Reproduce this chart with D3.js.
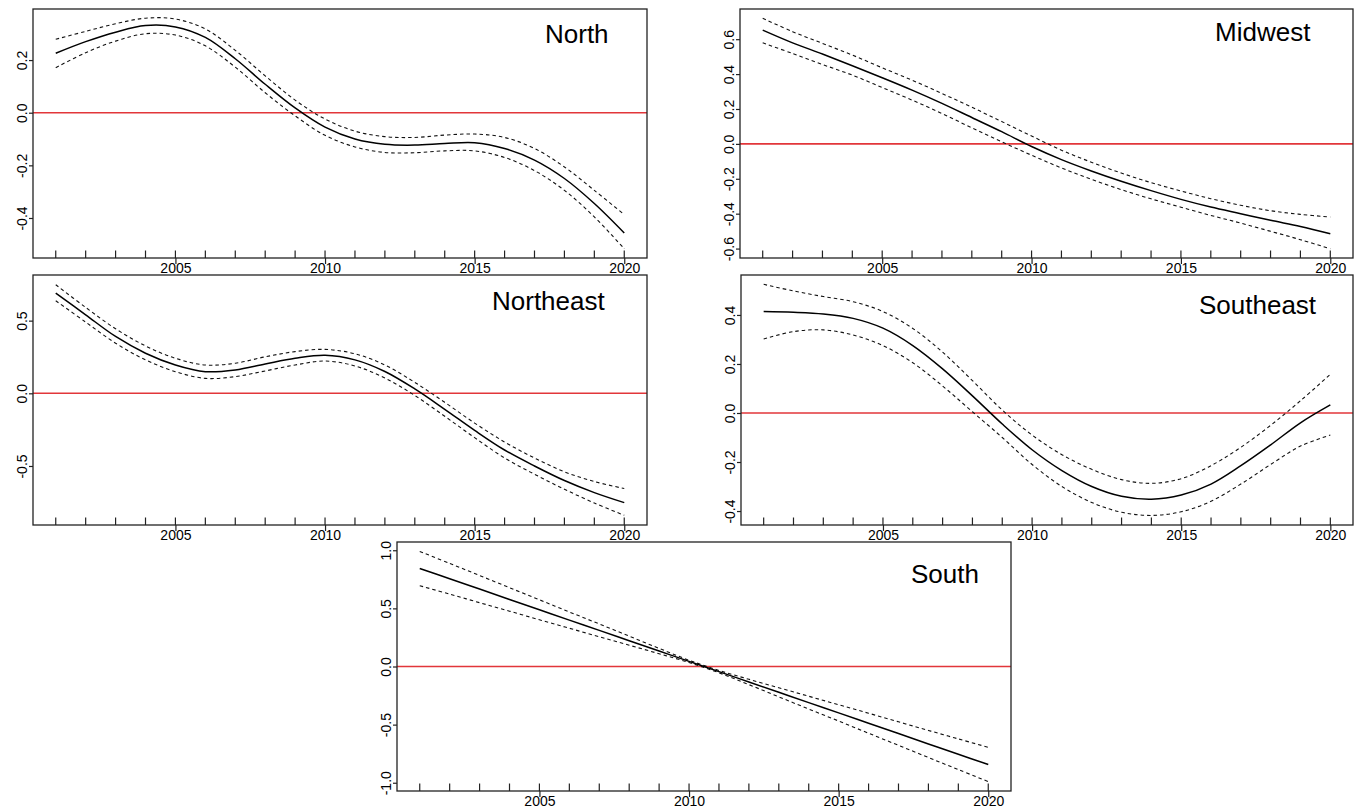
<!DOCTYPE html>
<html><head><meta charset="utf-8">
<script src="https://cdn.jsdelivr.net/npm/d3@7"></script>
<style>
body{margin:0;background:#fff}
svg{display:block}
text{font-family:Arial,"Liberation Sans",sans-serif;fill:#000}
</style>
</head><body>
<svg id="c" width="1361" height="809"></svg>
<script>
// ---------- data ----------
const years = [2001,2002,2003,2004,2005,2006,2007,2008,2009,2010,2011,2012,2013,2014,2015,2016,2017,2018,2019,2020];
const xTicks = [2005,2010,2015,2020];
const xLimits = [2000.24, 2020.76];

const northFit   = [0.226,0.27,0.306,0.331,0.326,0.286,0.205,0.108,0.018,-0.055,-0.1,-0.12,-0.123,-0.117,-0.114,-0.136,-0.18,-0.25,-0.345,-0.457];
const northUpper = [0.279,0.309,0.338,0.359,0.356,0.318,0.237,0.14,0.048,-0.024,-0.07,-0.091,-0.094,-0.085,-0.081,-0.094,-0.136,-0.206,-0.295,-0.387];
const northLower = [0.171,0.228,0.272,0.3,0.295,0.254,0.173,0.076,-0.012,-0.086,-0.13,-0.151,-0.152,-0.145,-0.145,-0.17,-0.22,-0.295,-0.396,-0.517];
const northYLim = [-0.552, 0.394];
const northYTicks = [-0.4,-0.2,0,0.2];

const midwestFit   = [0.652,0.579,0.515,0.448,0.379,0.308,0.232,0.151,0.07,-0.015,-0.09,-0.155,-0.214,-0.268,-0.318,-0.362,-0.4,-0.438,-0.473,-0.515];
const midwestUpper = [0.72,0.643,0.576,0.509,0.436,0.365,0.289,0.21,0.128,0.045,-0.036,-0.105,-0.167,-0.222,-0.27,-0.314,-0.352,-0.383,-0.404,-0.419];
const midwestLower = [0.579,0.518,0.455,0.394,0.323,0.251,0.174,0.092,0.012,-0.065,-0.138,-0.203,-0.262,-0.315,-0.363,-0.41,-0.454,-0.501,-0.549,-0.601];
const midwestYLim = [-0.654, 0.773];
const midwestYTicks = [-0.6,-0.4,-0.2,0,0.2,0.4,0.6];

const northeastFit   = [0.69,0.54,0.391,0.276,0.195,0.149,0.161,0.202,0.241,0.262,0.23,0.15,0.03,-0.11,-0.255,-0.39,-0.5,-0.6,-0.683,-0.752];
const northeastUpper = [0.747,0.591,0.444,0.326,0.241,0.195,0.207,0.251,0.287,0.302,0.272,0.195,0.075,-0.062,-0.205,-0.335,-0.445,-0.54,-0.607,-0.655];
const northeastLower = [0.637,0.49,0.345,0.23,0.149,0.103,0.115,0.154,0.195,0.222,0.188,0.105,-0.015,-0.158,-0.305,-0.445,-0.557,-0.66,-0.755,-0.839];
const northeastYLim = [-0.906, 0.814];
const northeastYTicks = [-0.5,0,0.5];

const southeastFit   = [0.414,0.411,0.404,0.386,0.346,0.275,0.18,0.07,-0.045,-0.15,-0.235,-0.3,-0.34,-0.352,-0.335,-0.29,-0.215,-0.13,-0.04,0.033];
const southeastUpper = [0.525,0.498,0.475,0.454,0.414,0.345,0.248,0.132,0.012,-0.09,-0.17,-0.23,-0.272,-0.287,-0.268,-0.215,-0.14,-0.05,0.05,0.158];
const southeastLower = [0.302,0.332,0.339,0.318,0.275,0.205,0.11,0.005,-0.1,-0.21,-0.3,-0.365,-0.405,-0.418,-0.403,-0.36,-0.29,-0.21,-0.135,-0.09];
const southeastYLim = [-0.457, 0.563];
const southeastYTicks = [-0.4,-0.2,0,0.2,0.4];

const southFit   = [0.843,0.755,0.666,0.577,0.488,0.399,0.311,0.222,0.133,0.044,-0.044,-0.133,-0.222,-0.311,-0.399,-0.488,-0.577,-0.666,-0.755,-0.843];
const southUpper = [0.99,0.887,0.783,0.678,0.574,0.469,0.366,0.261,0.156,0.054,-0.034,-0.11,-0.183,-0.256,-0.329,-0.402,-0.476,-0.55,-0.623,-0.695];
const southLower = [0.695,0.623,0.549,0.476,0.402,0.329,0.256,0.183,0.11,0.034,-0.054,-0.156,-0.261,-0.366,-0.469,-0.574,-0.678,-0.783,-0.887,-0.99];
const southYLim = [-1.071, 1.071];
const southYTicks = [-1,-0.5,0,0.5,1];

const panelNames = ["North","Midwest","Northeast","Southeast","South"];

// ---------- layout ----------
const panels = [
  {name:panelNames[0], fit:northFit, upper:northUpper, lower:northLower, yLim:northYLim, yTicks:northYTicks, box:[33,9,647,258], title:[545,43]},
  {name:panelNames[1], fit:midwestFit, upper:midwestUpper, lower:midwestLower, yLim:midwestYLim, yTicks:midwestYTicks, box:[740,9,1353,258], title:[1215,41]},
  {name:panelNames[2], fit:northeastFit, upper:northeastUpper, lower:northeastLower, yLim:northeastYLim, yTicks:northeastYTicks, box:[33,275,647,525], title:[492,310]},
  {name:panelNames[3], fit:southeastFit, upper:southeastUpper, lower:southeastLower, yLim:southeastYLim, yTicks:southeastYTicks, box:[741,275,1353,525], title:[1199,314]},
  {name:panelNames[4], fit:southFit, upper:southUpper, lower:southLower, yLim:southYLim, yTicks:southYTicks, box:[397,542,1011,791], title:[911,583]}
];

const svg = d3.select("#c");
const fmtY = v => (v < 0 ? "-" : "") + Math.abs(v).toFixed(1);
const tickFont = 14;

panels.forEach(p => {
  const [x0,y0,x1,y1] = p.box;
  const x = d3.scaleLinear().domain(xLimits).range([x0,x1]);
  const y = d3.scaleLinear().domain(p.yLim).range([y1,y0]);
  const g = svg.append("g");

  // zero reference line
  g.append("line")
    .attr("x1", x0).attr("x2", x1)
    .attr("y1", y(0)).attr("y2", y(0))
    .attr("stroke", "#e2363a").attr("stroke-width", 1.6);

  const line = arr => d3.line()
    .x((d,i) => x(years[i]))
    .y(d => y(d))
    .curve(d3.curveCatmullRom.alpha(0.5))(arr);

  g.append("path").attr("d", line(p.upper))
    .attr("fill","none").attr("stroke","#111").attr("stroke-width",1.1).attr("stroke-dasharray","3.5,3");
  g.append("path").attr("d", line(p.lower))
    .attr("fill","none").attr("stroke","#111").attr("stroke-width",1.1).attr("stroke-dasharray","3.5,3");
  g.append("path").attr("d", line(p.fit))
    .attr("fill","none").attr("stroke","#000").attr("stroke-width",1.5);

  // rug
  g.selectAll("line.rug").data(years).enter().append("line")
    .attr("class","rug")
    .attr("x1", d => x(d)).attr("x2", d => x(d))
    .attr("y1", y1).attr("y2", y1 - 7.5)
    .attr("stroke","#222").attr("stroke-width",1.2);

  // x axis
  const xa = g.append("g").attr("transform", `translate(0,${y1})`)
    .attr("font-size", tickFont)
    .call(d3.axisBottom(x).tickValues(xTicks).tickSize(6).tickPadding(0).tickFormat(d3.format("d")));
  xa.attr("font-size", tickFont).attr("font-family","Arial, 'Liberation Sans', sans-serif");
  xa.select(".domain").remove();
  xa.selectAll(".tick line").attr("stroke","#222").attr("stroke-width",1.2);
  xa.selectAll(".tick text").attr("font-size",tickFont).attr("dy","0.66em").attr("fill","#000");

  // y axis
  const ya = g.append("g").attr("transform", `translate(${x0},0)`)
    .call(d3.axisLeft(y).tickValues(p.yTicks).tickSize(4).tickFormat(fmtY));
  ya.attr("font-size", tickFont).attr("font-family","Arial, 'Liberation Sans', sans-serif");
  ya.select(".domain").remove();
  ya.selectAll(".tick line").attr("stroke","#222").attr("stroke-width",1.2);
  ya.selectAll(".tick text")
    .attr("x",0).attr("dy",0)
    .attr("text-anchor","middle")
    .attr("transform","translate(-6,0) rotate(-90)")
    .attr("font-size",tickFont).attr("fill","#000");

  // box
  g.append("rect")
    .attr("x", x0).attr("y", y0)
    .attr("width", x1 - x0).attr("height", y1 - y0)
    .attr("fill","none").attr("stroke","#222").attr("stroke-width",1.3);

  // title
  g.append("text").attr("x", p.title[0]).attr("y", p.title[1])
    .attr("font-size", 26).text(p.name);
});
</script>
</body></html>
